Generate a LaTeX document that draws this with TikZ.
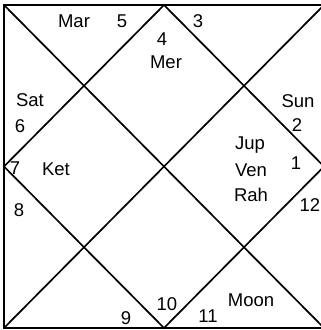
\documentclass[tikz,border=0pt]{standalone}
\usepackage{fontspec}
\setmainfont{Liberation Sans}
\begin{document}
\begin{tikzpicture}[x=1pt,y=-1pt,
  chartline/.style={line width=1.7pt, line join=miter},
  lbl/.style={inner sep=0pt, font=\fontsize{18.5}{20}\selectfont}]
\useasboundingbox (0,0) rectangle (321,330);
\clip (0,0) rectangle (321,330);
\coordinate (TL) at (4,5);
\coordinate (TR) at (324,5);
\coordinate (BR) at (324,328);
\coordinate (BL) at (4,328);
\coordinate (T) at (164,5);
\coordinate (R) at (324,166.5);
\coordinate (B) at (164,328);
\coordinate (L) at (4,166.5);
\draw[chartline] (TL) -- (TR) -- (BR) -- (BL) -- cycle;
\draw[chartline] (TL) -- (BR);
\draw[chartline] (TR) -- (BL);
\draw[chartline] (T) -- (R) -- (B) -- (L) -- cycle;
% labels
\node[lbl] (mar) at (74,21) {Mar};
\node[lbl] (h5) at (122,21) {5};
\node[lbl] (h4) at (162,39) {4};
\node[lbl] (mer) at (166,62) {Mer};
\node[lbl] (h3) at (198,21) {3};
\node[lbl] (sat) at (30,100) {Sat};
\node[lbl] (h6) at (20,126) {6};
\node[lbl] (sun) at (298,101) {Sun};
\node[lbl] (h2) at (297,125) {2};
\node[lbl] (jup) at (250,145) {Jup};
\node[lbl] (ven) at (251,170) {Ven};
\node[lbl] (rah) at (251,195) {Rah};
\node[lbl] (h1) at (296,163) {1};
\node[lbl] (h12) at (310,205) {12};
\node[lbl] (h7) at (15,168) {7};
\node[lbl] (ket) at (56,169) {Ket};
\node[lbl] (h8) at (19,210) {8};
\node[lbl] (h9) at (126,318) {9};
\node[lbl] (h10) at (167,304) {10};
\node[lbl] (h11) at (208,316) {11};
\node[lbl] (moon) at (251,300) {Moon};
\end{tikzpicture}
\end{document}
